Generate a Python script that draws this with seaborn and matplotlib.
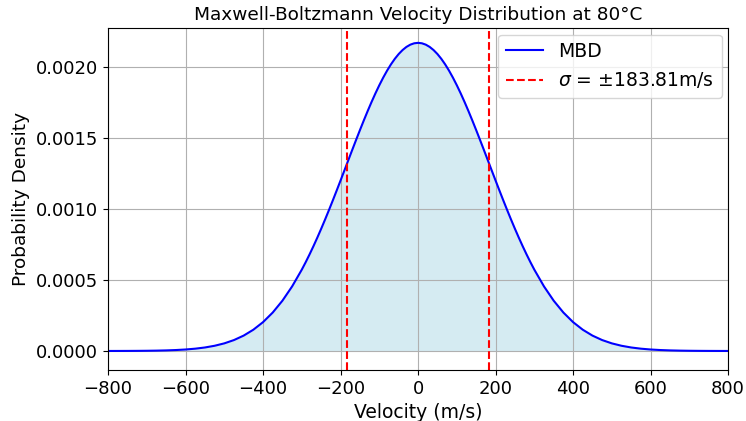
import matplotlib
matplotlib.use("Agg")
import matplotlib.pyplot as plt
import seaborn as sns
import pandas as pd

velocity = [-800, -775, -750, -725, -700, -675, -650, -625, -600, -575, -550, -525, -500,
            -475, -450, -425, -400, -375, -350, -325,
            -300, -290, -280, -270, -260, -250, -240, -230, -220, -210,
            -200, -190, -180, -170, -160, -150, -140, -130, -120, -110,
            -100, -90, -80, -70, -60, -50, -40, -30, -20, -10,
            0, 10, 20, 30, 40, 50, 60, 70, 80, 90,
            100, 110, 120, 130, 140, 150, 160, 170, 180, 190,
            200, 210, 220, 230, 240, 250, 260, 270, 280, 290, 300,
            325, 350, 375, 400, 425, 450, 475, 500, 525, 550, 575, 600, 625,
            650, 675, 700, 725, 750, 775, 800]
density = [0.00000017, 0.0000003, 0.00000053, 0.00000091, 0.00000154, 0.00000256, 0.00000418,
           0.0000067, 0.000010542, 0.000016282, 0.000024689, 0.000036745, 0.000053674,
           0.000076985, 0.00010841, 0.00014985, 0.00020332, 0.00027085, 0.00035419,
           0.00045466,
           0.00057291, 0.00062519, 0.00068021, 0.00073791, 0.00079812, 0.00086069,
           0.00092543, 0.00099209, 0.0010604, 0.0011301,
           0.0012008, 0.0012721, 0.0013437, 0.0014152, 0.0014860, 0.0015557,
           0.0016239, 0.0016901, 0.0017538, 0.0018146,
           0.0018718, 0.0019252, 0.0019743, 0.0020186, 0.0020578, 0.0020916,
           0.0021196, 0.0021417, 0.0021576, 0.0021672,
           0.0021704, 0.0021672, 0.0021576, 0.0021417, 0.0021196, 0.0020916,
           0.0020578, 0.0020186, 0.0019743, 0.0019252,
           0.0018718, 0.0018146, 0.0017538, 0.0016901, 0.0016239, 0.0015557,
           0.0014860, 0.0014152, 0.0013437, 0.0012721,
           0.0012008, 0.0011301, 0.0010604, 0.00099209, 0.00092543, 0.00086069,
           0.00079812, 0.00073791, 0.00068021, 0.00062519, 0.00057291,
           0.00045466, 0.00035419, 0.00027085, 0.00020332, 0.00014985, 0.00010841,
           0.000076985, 0.000053674, 0.000036745, 0.000024689, 0.000016282,
           0.000010542, 0.0000067, 0.00000418, 0.00000256, 0.00000154, 0.00000091,
           0.00000053, 0.0000003, 0.00000017]
sigma = 183.81
title = "Maxwell-Boltzmann Velocity Distribution at 80°C"

df = pd.DataFrame({"v": velocity, "p": density})

fig = plt.figure(figsize=(7.46, 4.21), dpi=100)
ax = fig.add_axes([0.1448, 0.1211, 0.8312, 0.8124])
sns.lineplot(data=df, x="v", y="p", color="blue", linewidth=1.5, label="MBD", ax=ax)
ax.fill_between(df["v"], df["p"], color="lightblue", alpha=0.5, linewidth=0)
ax.axvline(-sigma, color="red", linestyle="--", linewidth=1.5,
           label=r"$\sigma$ = $\pm$" + f"{sigma:.2f}m/s")
ax.axvline(sigma, color="red", linestyle="--", linewidth=1.5)
ax.set_xlim(-800, 800)
ax.set_ylim(-0.000134, 0.002275)
ax.grid(True)
ax.set_title(title, fontsize=13.3, pad=6)
ax.set_xlabel("Velocity (m/s)", fontsize=13.5)
ax.set_ylabel("Probability Density", fontsize=13.3)
ax.tick_params(labelsize=13)
ax.legend(loc="upper right", fontsize=13.5, labelspacing=0.5, borderaxespad=0.35)
fig.savefig("out.png", dpi=100)
